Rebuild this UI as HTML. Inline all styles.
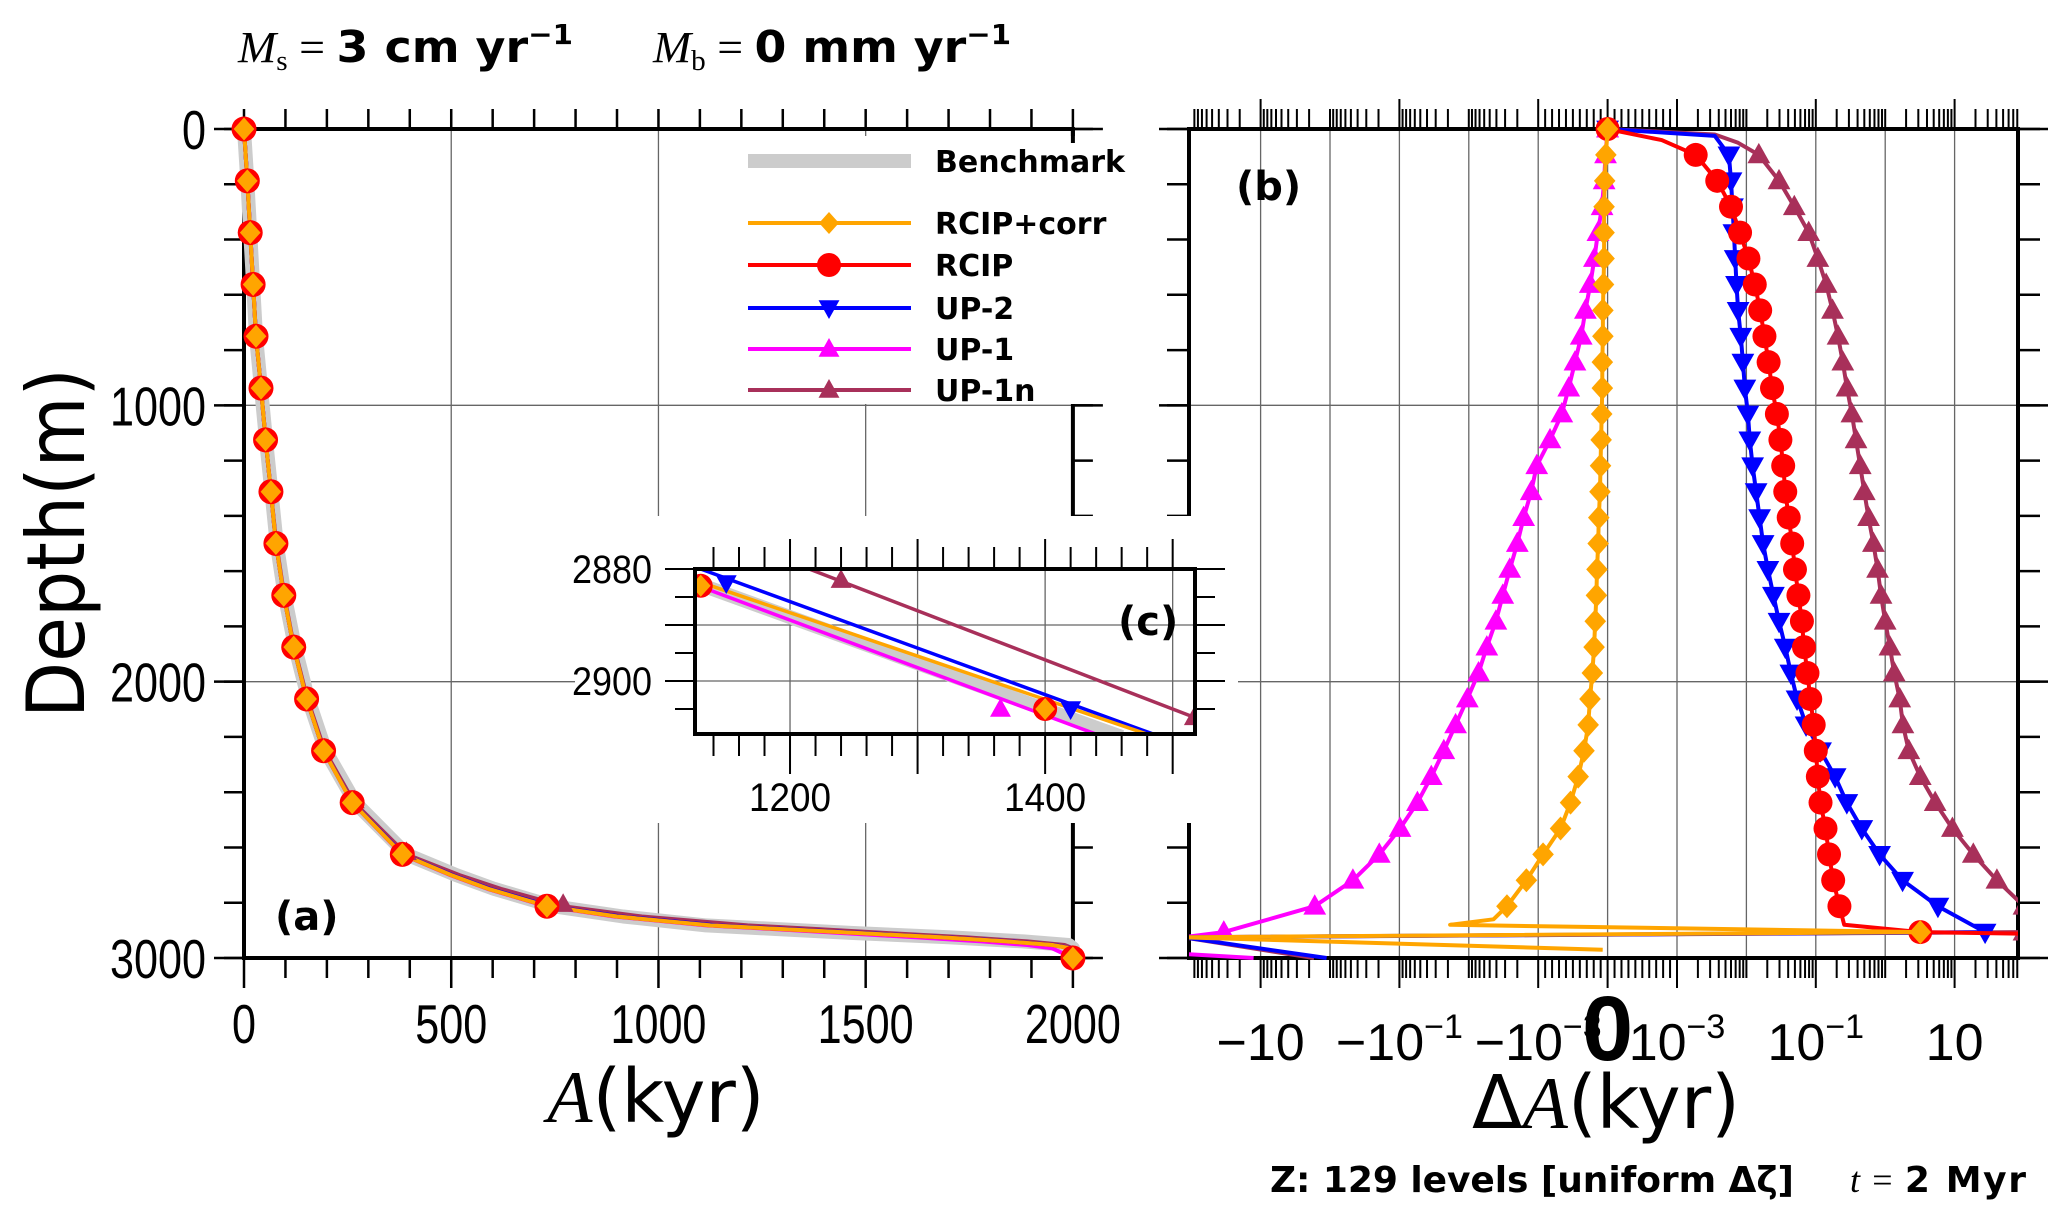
<!DOCTYPE html>
<html><head><meta charset="utf-8"><style>
html,body{margin:0;padding:0;background:#fff;}
svg{display:block;}
text{font-family:"DejaVu Sans","Liberation Sans",sans-serif;}
.num{font-family:"Liberation Sans Narrow","Liberation Sans",sans-serif;}
</style></head><body>
<svg id="fig" xmlns="http://www.w3.org/2000/svg" width="2067" height="1217" viewBox="0 0 2067 1217">
<g id="base"></g>
</svg>
<script>
// ---------- Panel (a) data: depth (m) vs age (kyr) ----------
const depthsA = [0,187.5,375,562.5,750,937.5,1125,1312.5,1500,1687.5,1875,2062.5,2250,2437.5,2625,2700,2750,2812.5,2850,2882,2895,2909.5,2925,2940,2953,2965,3000];
const ageRCIPcorr = [0,8,15,22,29,41,52,65,77,96,120,151,192,261,382,500,590,731,900,1125,1293,1480,1680,1840,1950,1995,2000];
const ageRCIP     = [0,8,15,22,29,41,52,65,77,96,120,151,192,261,382,500,590,731,900,1125,1293,1480,1680,1840,1950,1995,2000];
const ageBench    = [0,8,15,22,29,41,53,66,79,98,123,155,197,268,392,512,604,745,915,1115,1283,1470,1700,1880,1990,2000,2000];
const ageUP2      = [0,8,15,22,29,41,52,65,77,96,120,151,192,262,384,503,594,737,910,1140,1310,1495,1690,1850,1955,1997,2000];
const ageUP1      = [0,8,15,22,29,41,52,65,77,96,120,151,192,261,381,498,588,728,893,1115,1275,1440,1620,1780,1890,1950,2000];
const ageUP1n     = [0,8,15,22,29,41,52,65,78,97,121,153,195,266,392,520,620,770,960,1215,1380,1550,1740,1890,1980,2000,2000];

// ---------- Inset (c) data ----------
const insetBenchAge = [1120,1460]; const insetBenchDepth = [2882,2910];
const insetCorrAge  = [1125,1480]; const insetCorrDepth  = [2882,2909.5];
const insetUP2Age   = [1130,1485]; const insetUP2Depth   = [2880,2909.5];
const insetUP1Age   = [1122,1440]; const insetUP1Depth   = [2882.5,2909.5];
const insetUP1nAge  = [1215,1517]; const insetUP1nDepth  = [2880,2906.5];
const insetMarkCorrAge=[1130,1400]; const insetMarkCorrDepth=[2883,2905];
const insetMarkUP2Age =[1150,1420]; const insetMarkUP2Depth =[2882.5,2905];
const insetMarkUP1Age =[1122,1365]; const insetMarkUP1Depth =[2882.5,2905];
const insetMarkUP1nAge=[1240,1517]; const insetMarkUP1nDepth=[2882,2906.5];

// ---------- Panel (b) data: depth (m) vs ΔA (kyr) ----------
const depthsUP1 = [0,93.75,187.5,281.25,375,468.75,562.5,656.25,750,843.75,937.5,1031.25,1125,1218.75,1312.5,1406.25,1500,1593.75,1687.5,1781.25,1875,1968.75,2062.5,2156.25,2250,2343.75,2437.5,2531.25,2625,2718.75,2812.5,2906.25,2925,2985,3000];
const dUP1 = [0,-3e-5,-5e-5,-8e-5,-1.4e-4,-1.9e-4,-2.5e-4,-3.2e-4,-3.8e-4,-4.7e-4,-5.6e-4,-6.6e-4,-8.3e-4,-1.05e-3,-1.26e-3,-1.62e-3,-2.0e-3,-2.57e-3,-3.24e-3,-4.07e-3,-5.5e-3,-7.24e-3,-0.0105,-0.0155,-0.0229,-0.0347,-0.055,-0.098,-0.195,-0.468,-1.66,-33.9,-200,-200,-12.6];
const depthsCorr = [0,93.75,187.5,281.25,375,468.75,562.5,656.25,750,843.75,937.5,1031.25,1125,1218.75,1312.5,1406.25,1500,1593.75,1687.5,1781.25,1875,1968.75,2062.5,2156.25,2250,2343.75,2437.5,2531.25,2625,2718.75,2812.5,2860,2880,2906.25,2925,2970];
const dCorr = [0,-2.5e-5,-4.2e-5,-5.1e-5,-5.1e-5,-5.1e-5,-5.9e-5,-6.8e-5,-6.8e-5,-7.6e-5,-7.6e-5,-8.5e-5,-9.3e-5,-1.02e-4,-1.1e-4,-1.27e-4,-1.36e-4,-1.53e-4,-1.61e-4,-1.78e-4,-1.95e-4,-2.2e-4,-2.54e-4,-2.8e-4,-3.4e-4,-4.24e-4,-5.34e-4,-6.78e-4,-9.3e-4,-1.48e-3,-2.82e-3,-4.4e-3,-0.0186,3.2,-150,-7e-5];
const depthsRCIP = [0,40,93.75,187.5,281.25,375,468.75,562.5,656.25,750,843.75,937.5,1031.25,1125,1218.75,1312.5,1406.25,1500,1593.75,1687.5,1781.25,1875,1968.75,2062.5,2156.25,2250,2343.75,2437.5,2531.25,2625,2718.75,2812.5,2880,2906.25,2912];
const dRCIP = [0,7.8e-4,1.86e-3,3.8e-3,6.0e-3,8.1e-3,0.0107,0.0132,0.0158,0.0182,0.0209,0.0234,0.0275,0.0309,0.0339,0.0363,0.0407,0.0457,0.0501,0.0562,0.0631,0.0676,0.0759,0.0832,0.0933,0.1,0.107,0.117,0.138,0.155,0.178,0.219,0.257,3.2,100];
const depthsUP2 = [0,25,93.75,187.5,281.25,375,468.75,562.5,656.25,750,843.75,937.5,1031.25,1125,1218.75,1312.5,1406.25,1500,1593.75,1687.5,1781.25,1875,1968.75,2062.5,2156.25,2250,2343.75,2437.5,2531.25,2625,2718.75,2812.5,2906.25,2925,3000];
const dUP2 = [0,3.5e-3,5.6e-3,6.0e-3,6.3e-3,6.6e-3,6.9e-3,7.2e-3,7.6e-3,8.3e-3,8.9e-3,9.5e-3,0.0105,0.0112,0.0123,0.0138,0.0155,0.0174,0.0204,0.0245,0.0295,0.0363,0.0437,0.0537,0.0724,0.117,0.19,0.28,0.46,0.83,1.78,5.75,27.5,-200,-1.12];
const depthsUP1n = [0,20,50,93.75,187.5,281.25,375,468.75,562.5,656.25,750,843.75,937.5,1031.25,1125,1218.75,1312.5,1406.25,1500,1593.75,1687.5,1781.25,1875,1968.75,2062.5,2156.25,2250,2343.75,2437.5,2531.25,2625,2718.75,2812.5,2906.25,2925,3000];
const dUP1n = [0,3.5e-3,7.6e-3,0.0151,0.0295,0.049,0.079,0.107,0.141,0.174,0.209,0.245,0.282,0.331,0.38,0.437,0.5,0.575,0.676,0.776,0.871,1.0,1.17,1.35,1.62,1.8,2.19,3.2,5.25,9.3,18.6,40.7,100,100,-200,-1.7];

// ---------- Tick labels ----------
const ticksAx = [0,500,1000,1500,2000];
const ticksDepth = [0,1000,2000,3000];
const ticksBval = [-10,-0.1,-0.001,0,0.001,0.1,10];
const ticksBlab = [["−10",""],["−10","−1"],["−10","−3"],["0",""],["10","−3"],["10","−1"],["10",""]];
const ticksIx = [1200,1400];
const ticksIy = [2880,2900];

const NS="http://www.w3.org/2000/svg";
const svg=document.getElementById('base');
function el(tag,attrs,parent){const e=document.createElementNS(NS,tag);for(const k in attrs)e.setAttribute(k,attrs[k]);(parent||svg).appendChild(e);return e;}

const xA=v=>244+v*828.9/2000;
const yD=d=>129+d*829/3000;
const B0=1607.6,BD=69.4,BL=1189,BR=2018;
function uB(v){const a=Math.abs(v);if(a<=1e-3)return v/1e-3;return Math.sign(v)*(4+Math.log10(a));}
const xB=v=>Math.max(BL-6,Math.min(BR+6,B0+BD*uB(v)));
const xBu=u=>B0+BD*u;
const xI=v=>695+(v-1125.5)*1.2755;
const yI=d=>569+(d-2880)*5.6;

function line(x1,y1,x2,y2,w,c,p){return el('line',{x1,y1,x2,y2,stroke:c||'#000','stroke-width':w||2},p);}
function poly(xs,ys,c,w,p){let s='';for(let i=0;i<xs.length;i++)s+=(i?'L':'M')+xs[i].toFixed(1)+' '+ys[i].toFixed(1);return el('path',{d:s,fill:'none',stroke:c,'stroke-width':w,'stroke-linejoin':'round'},p);}
function mark(type,x,y,r,c,p){
  if(type==='circ')return el('circle',{cx:x,cy:y,r:r,fill:c},p);
  if(type==='dia')return el('path',{d:`M${x} ${y-r}L${x+r*0.9} ${y}L${x} ${y+r}L${x-r*0.9} ${y}Z`,fill:c},p);
  if(type==='up')return el('path',{d:`M${x} ${y-r}L${x+r*0.95} ${y+r*0.7}L${x-r*0.95} ${y+r*0.7}Z`,fill:c},p);
  if(type==='down')return el('path',{d:`M${x} ${y+r}L${x+r*0.95} ${y-r*0.7}L${x-r*0.95} ${y-r*0.7}Z`,fill:c},p);
}
function txt(s,x,y,size,attrs,p){const t=el('text',Object.assign({x,y,'font-size':size},attrs||{}),p);t.textContent=s;return t;}

const C={bench:'#cccccc',corr:'#ffa500',rcip:'#ff0000',up2:'#0000ff',up1:'#ff00ff',up1n:'#a8305a'};

// ================= PANEL A =================
const gA=el('g',{});


for(const v of [500,1000,1500]) line(xA(v),yD(0),xA(v),yD(3000),1.3,'#666',gA);
for(const d of [1000,2000]) line(xA(0),yD(d),xA(2000),yD(d),1.3,'#666',gA);
for(let v=0;v<=2000;v+=100){const L=(v%500===0)?30:20;line(xA(v),yD(3000),xA(v),yD(3000)+L,2.5,'#000',gA);line(xA(v),yD(0),xA(v),yD(0)-L+(v%500===0?10:0),2.5,'#000',gA);}
for(let d=0;d<=3000;d+=200){line(xA(0)-20,yD(d),xA(0),yD(d),2.5,'#000',gA);line(xA(2000),yD(d),xA(2000)+20,yD(d),2.5,'#000',gA);}
for(const d of ticksDepth){line(xA(0)-30,yD(d),xA(0),yD(d),2.5,'#000',gA);line(xA(2000),yD(d),xA(2000)+30,yD(d),2.5,'#000',gA);}
el('rect',{x:xA(0),y:yD(0),width:xA(2000)-xA(0),height:yD(3000)-yD(0),fill:'none',stroke:'#000','stroke-width':4},gA);
for(const v of ticksAx){const t=txt(String(v),xA(v),1043,55,{'text-anchor':'middle',class:'num',textLength:String(v).length*24,lengthAdjust:'spacingAndGlyphs'},gA);}
for(const d of ticksDepth){const s=String(d);const t=txt(s,206,yD(d)+20,55,{'text-anchor':'end',class:'num',textLength:s.length*24,lengthAdjust:'spacingAndGlyphs'},gA);}
function seriesA(ages,color,w,name){const p=poly(ages.map(xA),depthsA.map(yD),color,w,gA);}
seriesA(ageBench,C.bench,14,'benchmark-line-a');
seriesA(ageUP1n,C.up1n,4,'up1n-line-a');
seriesA(ageUP1,C.up1,4,'up1-line-a');
seriesA(ageUP2,C.up2,4,'up2-line-a');
seriesA(ageRCIP,C.rcip,4,'rcip-line-a');
seriesA(ageRCIPcorr,C.corr,4,'rcipcorr-line-a');
for(let i=0;i<depthsA.length;i++){
  if(depthsA[i]%187.5!==0) continue;
  mark('up',xA(ageUP1n[i]),yD(depthsA[i])-2,11,C.up1n,gA);
}
for(let i=0;i<depthsA.length;i++){
  if(depthsA[i]%187.5!==0) continue;
  const y=yD(depthsA[i]);
  const c=mark('circ',xA(ageRCIP[i]),y,12.5,C.rcip,gA);
  
  
  const m=mark('dia',xA(ageRCIPcorr[i]),y,11.5,C.corr,gA);
  
  
}
txt('(a)',275,930,40,{'font-weight':'bold'},gA);

// ================= PANEL B =================
const gB=el('g',{});


for(let u=-5;u<=5;u++) line(xBu(u),yD(0),xBu(u),yD(3000),1.3,'#666',gB);
for(const d of [1000,2000]) line(BL,yD(d),BR,yD(d),1.3,'#666',gB);
function tickB(u,L){if(u<(BL-B0)/BD-0.001||u>(BR-B0)/BD+0.001)return;const x=xBu(u);line(x,yD(3000),x,yD(3000)+L,2,'#000',gB);line(x,yD(0),x,yD(0)-L,2,'#000',gB);}
for(let k=1;k<=6;k++){for(let m=2;m<=9;m++){tickB(k+Math.log10(m),20);tickB(-(k+Math.log10(m)),20);}}
for(let m=1;m<=9;m++){tickB(m/10,20);tickB(-m/10,20);}
for(let u=-5;u<=5;u++) tickB(u,(Math.abs(u)%2===1||u===0)?30:20);
for(let d=0;d<=3000;d+=200){line(BL-22,yD(d),BL,yD(d),2.5,'#000',gB);line(BR,yD(d),BR+22,yD(d),2.5,'#000',gB);}
for(const d of ticksDepth){line(BL-30,yD(d),BL,yD(d),2.5,'#000',gB);line(BR,yD(d),BR+30,yD(d),2.5,'#000',gB);}
el('rect',{x:BL,y:yD(0),width:BR-BL,height:yD(3000)-yD(0),fill:'none',stroke:'#000','stroke-width':4},gB);
for(let i=0;i<ticksBval.length;i++){
  const x=xB(ticksBval[i]);const lab=ticksBlab[i];
  let t;
  if(lab[0]==='0'){t=txt('0',x,1060,92,{'text-anchor':'middle',class:'num','font-weight':'bold'},gB);}
  else{
    t=el('text',{x:x,y:1060,'font-size':52,'text-anchor':'middle',class:'num'},gB);
    const a=el('tspan',{},t);a.textContent=lab[0];
    if(lab[1]){const b=el('tspan',{dy:-22,'font-size':34},t);b.textContent=lab[1];}
  }
  
  
}
const cp=el('clipPath',{id:'clipB'});el('rect',{x:BL,y:yD(0)-20,width:BR-BL,height:yD(3000)-yD(0)+40},cp);
const gS=el('g',{'clip-path':'url(#clipB)'},gB);
function seriesB(depths,vals,color,type,r,name){
  const p=poly(vals.map(xB),depths.map(yD),color,4,gS);
  
  
  for(let i=0;i<depths.length;i++){
    if(depths[i]%93.75!==0) continue;
    if(depths[i]>=3000) continue;
    if(Math.abs(vals[i])>=150) continue;
    mark(type,xB(vals[i]),yD(depths[i]),r,color,gS);
  }
}
seriesB(depthsUP1n,dUP1n,C.up1n,'up',12,'up1n-line-b');
seriesB(depthsUP1,dUP1,C.up1,'up',12,'up1-line-b');
seriesB(depthsUP2,dUP2,C.up2,'down',12,'up2-line-b');
seriesB(depthsRCIP,dRCIP,C.rcip,'circ',12,'rcip-line-b');
seriesB(depthsCorr,dCorr,C.corr,'dia',12,'rcipcorr-line-b');
txt('(b)',1236,200,40,{'font-weight':'bold'},gB);

// ================= LEGEND =================
const gL=el('g',{});


el('rect',{x:740,y:136,width:372,height:268,fill:'#fff'},gL);
line(xA(2000),129,xA(2000),143,4,'#000',gL);
const legItems=[['Benchmark',C.bench,null,161,14],['RCIP+corr',C.corr,'dia',223,4],['RCIP',C.rcip,'circ',265,4],['UP-2',C.up2,'down',308,4],['UP-1',C.up1,'up',349,4],['UP-1n',C.up1n,'up',390,4]];
for(const it of legItems){
  const g=el('g',{},gL);
  
  
  line(748,it[3],911,it[3],it[4],it[1],g);
  if(it[2]) mark(it[2],829,it[3],it[2]==='circ'?12:11,it[1],g);
  txt(it[0],935,it[3]+11,30,{'font-weight':'bold'},g);
}

// ================= INSET =================
const gI=el('g',{});


el('rect',{x:575,y:516,width:663,height:307,fill:'#fff'},gI);
for(let v=1200;v<=1500;v+=100) line(xI(v),569,xI(v),734,1.3,'#666',gI);
for(const d of [2890,2900]) line(695,yI(d),1195,yI(d),1.3,'#666',gI);
for(let v=1140;v<=1500;v+=20){const L=(v%100===0)?40:22;line(xI(v),734,xI(v),734+L,2,'#000',gI);line(xI(v),569,xI(v),569-L+(v%100===0?10:0),2,'#000',gI);}
for(let d=2880;d<=2905;d+=5){const L=(d%10===0)?30:20;line(695-L,yI(d),695,yI(d),2,'#000',gI);line(1195,yI(d),1195+L,yI(d),2,'#000',gI);}
const cpI=el('clipPath',{id:'clipI'});el('rect',{x:695,y:569,width:500,height:165},cpI);
const gIS=el('g',{'clip-path':'url(#clipI)'},gI);
function insetLine(a,d,c,w,name){const p=poly(a.map(xI),d.map(yI),c,w,gIS);}
insetLine(insetBenchAge,insetBenchDepth,C.bench,14,'benchmark-line-c');
insetLine(insetUP1nAge,insetUP1nDepth,C.up1n,3.5,'up1n-line-c');
insetLine(insetUP1Age,insetUP1Depth,C.up1,3.5,'up1-line-c');
insetLine(insetUP2Age,insetUP2Depth,C.up2,3.5,'up2-line-c');
insetLine(insetCorrAge,insetCorrDepth,C.corr,3.5,'rcipcorr-line-c');
for(let i=0;i<2;i++){
  mark('up',xI(insetMarkUP1nAge[i]),yI(insetMarkUP1nDepth[i]),11,C.up1n,gIS);
  mark('up',xI(insetMarkUP1Age[i]),yI(insetMarkUP1Depth[i]),11,C.up1,gIS);
  mark('down',xI(insetMarkUP2Age[i]),yI(insetMarkUP2Depth[i]),11,C.up2,gIS);
  mark('circ',xI(insetMarkCorrAge[i]),yI(insetMarkCorrDepth[i]),12,C.rcip,gIS);
  mark('dia',xI(insetMarkCorrAge[i]),yI(insetMarkCorrDepth[i]),11,C.corr,gIS);
}
el('rect',{x:695,y:569,width:500,height:165,fill:'none',stroke:'#000','stroke-width':4},gI);
for(const v of ticksIx) txt(String(v),xI(v),811,40,{'text-anchor':'middle',class:'num',textLength:82,lengthAdjust:'spacingAndGlyphs'},gI);
for(const d of ticksIy) txt(String(d),652,yI(d)+14,40,{'text-anchor':'end',class:'num',textLength:80,lengthAdjust:'spacingAndGlyphs'},gI);
txt('(c)',1118,635,40,{'font-weight':'bold'},gI);

// ================= TITLES =================
function ttl(name,build){const t=build();}
ttl('y-axis-title',()=>txt('Depth(m)',0,0,80,{transform:'translate(84,543) rotate(-90)','text-anchor':'middle',textLength:350,lengthAdjust:'spacingAndGlyphs'}));
ttl('x-axis-title-a',()=>{const t=el('text',{x:656,y:1122,'font-size':74,'text-anchor':'middle'});const a=el('tspan',{'font-family':'Liberation Serif,serif','font-style':'italic'},t);a.textContent='A';const b=el('tspan',{},t);b.textContent='(kyr)';return t;});
ttl('x-axis-title-b',()=>{const t=el('text',{x:1606,y:1128,'font-size':74,'text-anchor':'middle'});const a=el('tspan',{},t);a.textContent='Δ';const b=el('tspan',{'font-family':'Liberation Serif,serif','font-style':'italic'},t);b.textContent='A';const c=el('tspan',{},t);c.textContent='(kyr)';return t;});
function rateTitle(name,x,w,sym,sub,val){
  ttl(name,()=>{
    const t=el('text',{x:x,y:62,'font-size':44,textLength:w,lengthAdjust:'spacingAndGlyphs'});
    const a=el('tspan',{'font-family':'Liberation Serif,serif','font-style':'italic'},t);a.textContent=sym;
    const b=el('tspan',{'font-family':'Liberation Serif,serif','font-size':28,dy:8},t);b.textContent=sub;
    const c=el('tspan',{'font-family':'Liberation Serif,serif',dy:-8},t);c.textContent=' = ';
    const d=el('tspan',{'font-weight':'bold'},t);d.textContent=val;
    const e=el('tspan',{'font-size':28,dy:-18,'font-weight':'bold'},t);e.textContent='−1';
    return t;});
}
rateTitle('surface-rate-title',238,335,'M','s','3 cm yr');
rateTitle('basal-rate-title',653,358,'M','b','0 mm yr');
ttl('grid-info-text',()=>txt('Z: 129 levels [uniform Δζ]',1270,1192,36,{'font-weight':'bold',textLength:524,lengthAdjust:'spacing'}));
ttl('time-text',()=>{const t=el('text',{x:1850,y:1192,'font-size':36,textLength:176,lengthAdjust:'spacing'});
  const s=el('tspan',{'font-family':'Liberation Serif,serif','font-style':'italic'},t);s.textContent='t';
  const s2=el('tspan',{'font-family':'Liberation Serif,serif'},t);s2.textContent=' = ';
  const s3=el('tspan',{'font-weight':'bold'},t);s3.textContent='2 Myr';return t;});
</script>
</body></html>
